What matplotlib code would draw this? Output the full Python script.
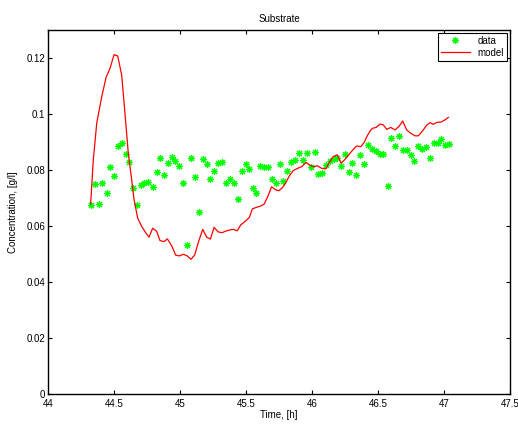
import matplotlib
matplotlib.use("Agg")
import matplotlib.pyplot as plt
from matplotlib.ticker import FormatStrFormatter

plt.rcParams['font.family'] = ['Liberation Sans', 'DejaVu Sans']

# measured substrate concentration
t_data = [44.323, 44.354, 44.384, 44.412, 44.445, 44.472, 44.50, 44.528, 44.561, 44.591,
          44.616, 44.646, 44.677, 44.705, 44.730, 44.760, 44.795, 44.823, 44.846, 44.881,
          44.907, 44.937, 44.964, 44.995, 45.023, 45.053, 45.083, 45.114, 45.144, 45.172,
          45.202, 45.229, 45.258, 45.288, 45.321, 45.348, 45.379, 45.409, 45.437, 45.467,
          45.498, 45.525, 45.551, 45.578, 45.608, 45.639, 45.667, 45.694, 45.725, 45.755,
          45.783, 45.811, 45.841, 45.869, 45.902, 45.932, 45.962, 45.990, 46.020, 46.048,
          46.076, 46.106, 46.136, 46.164, 46.192, 46.222, 46.250, 46.278, 46.305, 46.336,
          46.366, 46.394, 46.424, 46.452, 46.485, 46.515, 46.540, 46.573, 46.600, 46.631,
          46.659, 46.689, 46.720, 46.750, 46.775, 46.805, 46.836, 46.866, 46.896, 46.924,
          46.952, 46.980, 47.010, 47.040]
c_data = [0.0675, 0.0750, 0.0680, 0.0754, 0.0717, 0.0810, 0.0779, 0.0886, 0.0898, 0.0857,
          0.0829, 0.0735, 0.0675, 0.0745, 0.0755, 0.0756, 0.0739, 0.0794, 0.0843, 0.0781,
          0.0826, 0.0845, 0.0833, 0.0815, 0.0754, 0.0531, 0.0843, 0.0774, 0.0650, 0.0838,
          0.0820, 0.0767, 0.0798, 0.0826, 0.0830, 0.0754, 0.0768, 0.0752, 0.0695, 0.0798,
          0.0820, 0.0803, 0.0735, 0.0718, 0.0815, 0.0812, 0.0810, 0.0769, 0.0752, 0.0823,
          0.0762, 0.0795, 0.0827, 0.0835, 0.0860, 0.0836, 0.0860, 0.0810, 0.0864, 0.0786,
          0.0790, 0.0817, 0.0831, 0.0838, 0.0843, 0.0814, 0.0856, 0.0794, 0.0826, 0.0782,
          0.0854, 0.0820, 0.0889, 0.0874, 0.0866, 0.0857, 0.0857, 0.0744, 0.0913, 0.0886,
          0.0920, 0.0870, 0.0873, 0.0852, 0.0831, 0.0887, 0.0874, 0.0881, 0.0842, 0.0898,
          0.0898, 0.0910, 0.0889, 0.0893]

# model output
t_model = [44.323, 44.343, 44.369, 44.407, 44.440, 44.470, 44.500, 44.528, 44.558, 44.583,
           44.608, 44.634, 44.652, 44.680, 44.710, 44.740, 44.765, 44.793, 44.823, 44.848,
           44.879, 44.904, 44.937, 44.967, 44.995, 45.025, 45.055, 45.083, 45.111, 45.141,
           45.172, 45.202, 45.230, 45.258, 45.288, 45.318, 45.348, 45.379, 45.404, 45.434,
           45.460, 45.492, 45.525, 45.548, 45.581, 45.611, 45.639, 45.667, 45.694, 45.725,
           45.750, 45.778, 45.803, 45.828, 45.858, 45.892, 45.922, 45.955, 45.980, 46.010,
           46.040, 46.073, 46.104, 46.131, 46.161, 46.192, 46.220, 46.250, 46.283, 46.308,
           46.338, 46.369, 46.394, 46.422, 46.445, 46.460, 46.485, 46.515, 46.540, 46.566,
           46.596, 46.629, 46.661, 46.687, 46.717, 46.748, 46.780, 46.805, 46.838, 46.869,
           46.894, 46.919, 46.945, 46.977, 47.008, 47.033]
c_model = [0.0679, 0.0836, 0.0967, 0.1062, 0.1131, 0.1163, 0.1212, 0.1207, 0.1139, 0.1002,
           0.0860, 0.0764, 0.0693, 0.0627, 0.0598, 0.0576, 0.0560, 0.0592, 0.0581, 0.0548,
           0.0544, 0.0554, 0.0529, 0.0496, 0.0493, 0.0499, 0.0493, 0.0481, 0.0496, 0.0545,
           0.0588, 0.0560, 0.0553, 0.0595, 0.0579, 0.0576, 0.0582, 0.0586, 0.0588, 0.0583,
           0.0604, 0.0616, 0.0630, 0.0661, 0.0667, 0.0671, 0.0679, 0.0708, 0.0740, 0.0729,
           0.0726, 0.0738, 0.0756, 0.0779, 0.0798, 0.0806, 0.0812, 0.0827, 0.0818, 0.0812,
           0.0815, 0.0806, 0.0804, 0.0827, 0.0848, 0.0854, 0.0824, 0.0838, 0.0857, 0.0871,
           0.0886, 0.0883, 0.0898, 0.0925, 0.0943, 0.0949, 0.0952, 0.0964, 0.0961, 0.0945,
           0.0952, 0.0943, 0.0957, 0.0975, 0.0943, 0.0931, 0.0922, 0.0922, 0.0940, 0.0960,
           0.0969, 0.0963, 0.0970, 0.0971, 0.0979, 0.0988]

fig = plt.figure(figsize=(5.18, 4.24), dpi=100)
ax = fig.add_axes([0.0927, 0.0708, 0.8919, 0.8585])

ax.plot(t_data, c_data, linestyle='none', marker=(8, 2, 0), color=(0, 1, 0),
        markersize=5, markeredgewidth=0.8, label='data')
ax.plot(t_model, c_model, color='red', linewidth=0.9, label='model')

ax.set_xlim(44, 47.5)
ax.set_ylim(0, 0.13)
ax.set_xticks([44, 44.5, 45, 45.5, 46, 46.5, 47, 47.5])
ax.set_yticks([0, 0.02, 0.04, 0.06, 0.08, 0.1, 0.12])
ax.xaxis.set_major_formatter(FormatStrFormatter('%g'))
ax.yaxis.set_major_formatter(FormatStrFormatter('%g'))
ax.tick_params(direction='in', top=True, right=True, labelsize=7, length=3, width=0.8)
ax.tick_params(axis='x', pad=3.5)
ax.tick_params(axis='y', pad=2)
for s in ax.spines.values():
    s.set_linewidth(1.0)

ax.set_title('Substrate', fontsize=7, pad=6)
ax.set_xlabel('Time, [h]', fontsize=7, labelpad=1)
ax.set_ylabel('Concentration, [g/l]', fontsize=7, labelpad=6)

leg = ax.legend(loc='upper right', fontsize=7, frameon=True, fancybox=False,
                edgecolor='black', framealpha=1, borderpad=0.3, handlelength=3,
                borderaxespad=0.3, labelspacing=0.2)
leg.get_frame().set_linewidth(0.8)

fig.savefig('out.png', dpi=100)
